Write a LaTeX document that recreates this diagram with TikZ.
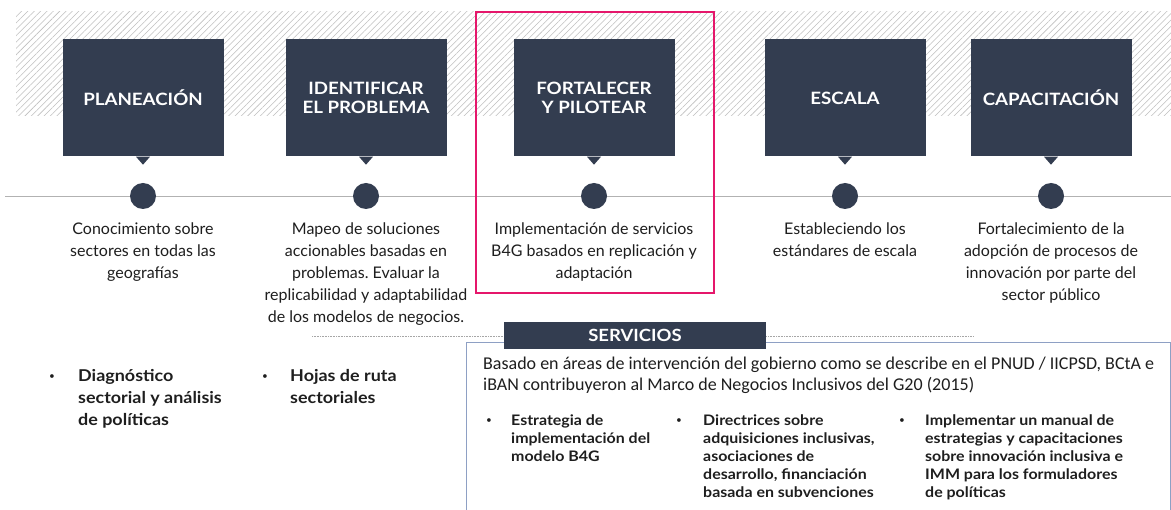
\documentclass[tikz,border=0pt]{standalone}
\usepackage{fontspec}
\setmainfont{Lato}
\newfontfamily\gillw[FakeStretch=1.1]{Lato}
\newfontfamily\calfont{Carlito}
\usetikzlibrary{patterns.meta,calc}
\definecolor{navy}{HTML}{333D50}
\definecolor{pinkf}{HTML}{E5176B}
\definecolor{bluebox}{HTML}{8EA0C4}
\definecolor{txt}{HTML}{1E1E1E}
\frenchspacing
\begin{document}
\begin{tikzpicture}[x=1pt,y=-1pt,
  stage/.style={fill=navy, minimum width=161pt, minimum height=117pt, text=white,
    font=\gillw\bfseries\fontsize{17}{19.5}\selectfont, align=center, inner sep=0pt},
  dot/.style={circle, fill=navy, minimum size=26pt, inner sep=0pt},
  desc/.style={anchor=north, align=center, text=txt, font=\fontsize{16}{22}\selectfont, inner sep=0pt},
  bul/.style={anchor=north west, align=left, text=txt, inner sep=0pt},
  bigbul/.style={bul, font=\gillw\bfseries\fontsize{16.3}{22}\selectfont},
  smallbul/.style={bul, font=\gillw\bfseries\fontsize{14.5}{18}\selectfont},
  dotmark/.style={bul, font=\fontsize{10}{12}\selectfont},
  pointer/.style={fill=navy}
]
\useasboundingbox (0,0) rectangle (1171,510);
\fill[white] (0,0) rectangle (1171,510);
% hatched band
\path[pattern={Lines[angle=45,distance=4.5pt,line width=0.55pt]}, pattern color=gray!50]
  (16,12) rectangle (1171,116);
% timeline
\draw[gray!60, line width=0.8pt] (5,196) -- (1171,196);
% stage boxes
\node[stage] (b1) at (143,98) {PLANEACIÓN};
\node[stage] (b2) at (366,98) {IDENTIFICAR\\EL PROBLEMA};
\node[stage] (b3) at (594,98) {FORTALECER\\Y PILOTEAR};
\node[stage] (b4) at (845,98) {ESCALA};
\node[stage] (b5) at (1051,98) {CAPACITACIÓN};
\foreach \b in {b1,b2,b3,b4,b5}
  \fill[pointer] ($(\b.south)+(-7,0)$) -- ($(\b.south)+(0,8)$) -- ($(\b.south)+(7,0)$) -- cycle;
% dots
\node[dot] (c1) at (143,196) {};
\node[dot] (c2) at (366,196) {};
\node[dot] (c3) at (594,196) {};
\node[dot] (c4) at (845,196) {};
\node[dot] (c5) at (1051,196) {};
% descriptions
\node[desc] (d1) at (143,223) {Conocimiento sobre\\sectores en todas las\\geografías};
\node[desc] (d2) at (366,223) {Mapeo de soluciones\\accionables basadas en\\problemas. Evaluar la\\replicabilidad y adaptabilidad\\de los modelos de negocios.};
\node[desc] (d3) at (594,223) {Implementación de servicios\\B4G basados en replicación y\\adaptación};
\node[desc] (d4) at (845,223) {Estableciendo los\\estándares de escala};
\node[desc] (d5) at (1051,223) {Fortalecimiento de la\\adopción de procesos de\\innovación por parte del\\sector público};
% pink frame
\draw[pinkf, line width=2.8pt] (476,12) rectangle (714,293);
% services
\draw[gray!70, line width=0.6pt, densely dotted] (312,336) -- (973,336);
\draw[bluebox, line width=1pt] (466,515) -- (466,343) -- (1170,343) -- (1170,515);
\node[fill=navy, minimum width=262pt, minimum height=27pt, inner sep=0pt, text=white,
  font=\gillw\bfseries\fontsize{16.8}{18}\selectfont] (serv) at (635,335.5) {SERVICIOS};
\node[anchor=north west, align=left, inner sep=0pt, text=txt, font=\calfont\fontsize{18}{21}\selectfont]
  (basado) at (483,357) {Basado en áreas de intervención del gobierno como se describe en el PNUD / IICPSD, BCtA e\\iBAN contribuyeron al Marco de Negocios Inclusivos del G20 (2015)};
% left bullets
\node[dotmark] (lb1) at (49,374) {•};
\node[bigbul] (l1) at (78,369) {Diagnóstico\\sectorial y análisis\\de políticas};
\node[dotmark] (lb2) at (262,374) {•};
\node[bigbul] (l2) at (290,369) {Hojas de ruta\\sectoriales};
% service bullets
\node[dotmark] (sb1) at (486,418) {•};
\node[smallbul] (s1) at (511,415) {Estrategia de\\implementación del\\modelo B4G};
\node[dotmark] (sb2) at (676,418) {•};
\node[smallbul] (s2) at (703,415) {Directrices sobre\\adquisiciones inclusivas,\\asociaciones de\\desarrollo, financiación\\basada en subvenciones};
\node[dotmark] (sb3) at (899,418) {•};
\node[smallbul] (s3) at (925,415) {Implementar un manual de\\estrategias y capacitaciones\\sobre innovación inclusiva e\\IMM para los formuladores\\de políticas};
\end{tikzpicture}
\end{document}
